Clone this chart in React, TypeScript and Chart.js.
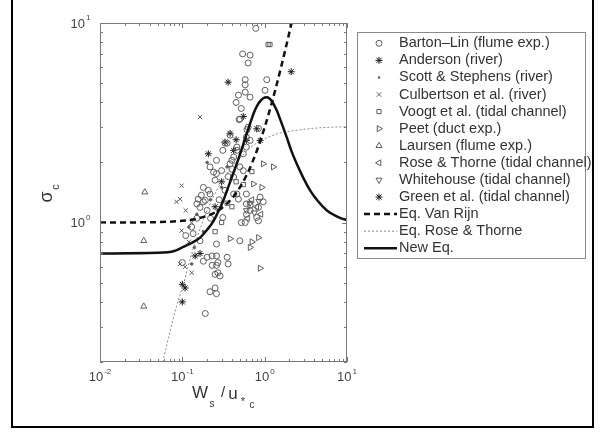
import React, { useEffect, useRef } from "react";
import { Chart, registerables } from "chart.js";

Chart.register(...registerables);

// ---------- data (x = Ws/u*c, y = sigma_c) ----------
const bartonLin: number[][] = [
  [0.78, 9.4], [0.54, 7.0], [0.665, 6.9], [0.63, 6.3], [0.58, 5.2], [0.58, 4.9], [0.58, 4.5],
  [1.06, 5.2], [1.01, 4.6], [0.48, 4.35], [0.665, 4.25], [0.45, 4.0], [0.52, 3.73], [0.49, 3.28],
  [0.61, 2.92], [0.84, 2.96], [0.38, 2.74], [0.6, 2.68], [0.33, 2.5], [0.5, 3.3],
  [0.63, 3.0], [0.46, 2.3], [0.6, 2.39], [0.4, 2.05], [0.55, 1.82], [0.42, 1.69], [0.6, 1.39],
  [0.46, 1.39], [0.88, 1.34], [0.96, 1.27], [0.665, 1.22], [0.84, 1.19], [0.6, 1.1], [0.8, 1.06],
  [0.58, 1.0], [0.84, 1.02], [0.35, 2.5], [0.217, 1.9], [0.26, 1.76], [0.3, 1.82], [0.18, 1.5],
  [0.207, 1.45], [0.156, 1.31], [0.18, 1.27], [0.164, 1.19], [0.2, 1.15], [0.42, 1.39], [0.48, 1.31],
  [0.6, 1.24], [0.665, 1.15], [0.31, 1.06], [0.52, 1.0], [0.11, 0.86], [0.135, 0.88], [0.164, 0.81],
  [0.5, 0.81], [0.26, 0.78], [0.2, 0.67], [0.23, 0.68], [0.27, 0.63], [0.1, 0.63],
  [0.18, 0.64], [0.26, 0.68], [0.35, 0.67], [0.23, 0.61], [0.26, 0.61], [0.36, 0.62], [0.25, 0.55],
  [0.287, 0.54], [0.27, 0.56], [0.217, 0.45], [0.26, 0.44], [0.25, 0.47], [0.19, 0.35],
  [0.46, 2.39], [0.42, 2.13], [0.55, 2.21], [0.38, 1.97], [0.5, 1.9], [0.665, 2.58], [0.31, 2.3],
  [0.26, 2.05], [0.24, 1.79], [0.25, 1.63], [0.17, 1.37], [0.19, 1.29], [0.15, 1.24], [0.217, 1.39],
  [0.33, 1.45], [0.28, 1.3], [0.36, 1.7], [0.4, 1.85], [0.22, 1.05], [0.13, 0.95], [0.15, 1.05],
];
const anderson: number[][] = [
  [0.36, 5.05], [0.207, 2.21], [0.1, 0.49], [0.108, 0.47], [0.1, 0.4], [0.143, 0.68], [0.164, 0.7],
  [0.33, 2.53], [0.38, 2.8], [0.3, 1.6], [0.45, 2.6], [0.25, 1.2], [0.55, 3.4], [0.42, 2.3],
];
const scottStephens: number[][] = [
  [0.2, 2.0], [0.15, 1.1], [0.12, 0.95], [0.3, 1.5], [0.22, 1.3], [0.14, 0.75], [0.13, 0.62],
  [0.18, 0.9], [0.27, 1.15], [0.35, 1.9],
];
const culbertson: number[][] = [
  [0.164, 3.38], [0.098, 1.53], [0.094, 1.31], [0.085, 1.27], [0.098, 0.91], [0.094, 0.62],
  [0.108, 0.6], [0.13, 0.56], [0.12, 0.8], [0.13, 1.0], [0.11, 1.15],
];
const voogt: number[][] = [
  [1.1, 7.8], [1.16, 7.8], [0.3, 1.0], [0.4, 1.2], [0.25, 0.9], [0.55, 1.55], [0.7, 1.8],
  [0.35, 1.25], [0.45, 1.6],
];
const peet: number[][] = [
  [0.96, 1.97], [1.27, 1.9], [0.73, 1.56], [0.92, 1.5], [0.38, 0.83], [0.84, 0.84], [0.88, 0.59],
  [0.665, 0.75], [0.7, 0.8],
];
const laursen: number[][] = [[0.035, 1.42], [0.034, 0.81], [0.034, 0.38]];
const roseThorne: number[][] = [[0.7, 1.3], [0.8, 1.2], [0.62, 1.05], [0.9, 1.1]];
const whitehouse: number[][] = [[0.66, 1.25], [0.75, 1.12], [0.85, 1.28], [0.6, 1.15]];
const green: number[][] = [[2.1, 5.7], [0.88, 2.58], [0.6, 2.58], [0.8, 2.95]];

const vanRijnX = [0.01, 0.05, 0.1, 0.15, 0.2, 0.25, 0.3, 0.4, 0.5, 0.6, 0.7, 0.8, 0.9, 1.0, 1.2, 1.4, 1.6, 1.8, 2.0, 2.15];
const vanRijnY = [1.0, 1.005, 1.02, 1.045, 1.08, 1.125, 1.18, 1.32, 1.5, 1.72, 1.98, 2.28, 2.62, 3.0, 3.88, 4.92, 6.12, 7.48, 9.0, 10.25];

const roseEqX = [0.058, 0.07, 0.085, 0.103, 0.13, 0.16, 0.2, 0.25, 0.3, 0.4, 0.5, 0.65, 0.8, 1.0, 1.5, 2.45, 4.0, 6.0, 10.0];
const roseEqY = [0.2, 0.28, 0.38, 0.49, 0.7, 0.9, 1.15, 1.4, 1.6, 1.9, 2.1, 2.35, 2.5, 2.63, 2.8, 2.9, 2.97, 3.0, 3.02];

const newEqX = [0.01, 0.05, 0.08, 0.1, 0.13, 0.164, 0.2, 0.24, 0.28, 0.315, 0.36, 0.415, 0.47, 0.52, 0.59, 0.665, 0.75, 0.84, 0.96, 1.07, 1.2, 1.4, 1.54, 1.85, 2.1, 2.45, 3.0, 3.56, 4.5, 5.7, 7.0, 8.5, 10.0];
const newEqY = [0.7, 0.705, 0.72, 0.75, 0.79, 0.84, 0.92, 1.02, 1.16, 1.29, 1.5, 1.76, 2.03, 2.3, 2.7, 3.13, 3.6, 3.95, 4.2, 4.25, 4.1, 3.65, 3.3, 2.68, 2.3, 1.97, 1.65, 1.45, 1.27, 1.15, 1.09, 1.05, 1.03];

const seriesLabels = [
  "Barton–Lin (flume exp.)", "Anderson (river)", "Scott & Stephens (river)", "Culbertson et al. (river)",
  "Voogt et al. (tidal channel)", "Peet (duct exp.)", "Laursen (flume exp.)", "Rose & Thorne (tidal channel)",
  "Whitehouse (tidal channel)", "Green et al. (tidal channel)",
];
const lineLabels = ["Eq. Van Rijn", "Eq. Rose & Thorne", "New Eq."];

const xTickValues = [0.01, 0.1, 1, 10];
const xTickExp = ["-2", "-1", "0", "1"];
const yTickValues = [1, 10];
const yTickExp = ["0", "1"];

// ---------- styles ----------
const GRAY = "#5e5e5e";
const DARK = "#1a1a1a";
type MStyle = { style: string; rot: number; r: number; color: string; fill: boolean };
const markerStyles: MStyle[] = [
  { style: "circle", rot: 0, r: 3, color: GRAY, fill: false },
  { style: "star", rot: 0, r: 3.5, color: DARK, fill: false },
  { style: "circle", rot: 0, r: 1.3, color: GRAY, fill: true },
  { style: "crossRot", rot: 0, r: 3, color: GRAY, fill: false },
  { style: "rect", rot: 0, r: 3, color: GRAY, fill: false },
  { style: "triangle", rot: 90, r: 3.5, color: GRAY, fill: false },
  { style: "triangle", rot: 0, r: 3.5, color: GRAY, fill: false },
  { style: "triangle", rot: 270, r: 3.5, color: GRAY, fill: false },
  { style: "triangle", rot: 180, r: 3.5, color: GRAY, fill: false },
  { style: "star", rot: 0, r: 3.5, color: DARK, fill: false },
];
const seriesData = [bartonLin, anderson, scottStephens, culbertson, voogt, peet, laursen, roseThorne, whitehouse, green];

const FONT = '"Liberation Sans", Arial, Helvetica, sans-serif';

function drawMarker(ctx: CanvasRenderingContext2D, m: MStyle, x: number, y: number) {
  ctx.save();
  ctx.translate(x, y);
  ctx.rotate((m.rot * Math.PI) / 180);
  ctx.strokeStyle = m.color;
  ctx.fillStyle = m.color;
  ctx.lineWidth = 1;
  const r = m.r;
  ctx.beginPath();
  if (m.style === "circle") {
    ctx.arc(0, 0, r, 0, Math.PI * 2);
    if (m.fill) ctx.fill(); else ctx.stroke();
  } else if (m.style === "rect") {
    const s = r * Math.SQRT1_2 * 2;
    ctx.rect(-s / 2, -s / 2, s, s);
    ctx.stroke();
  } else if (m.style === "triangle") {
    ctx.moveTo(0, -r);
    ctx.lineTo(r * 0.866, r * 0.5);
    ctx.lineTo(-r * 0.866, r * 0.5);
    ctx.closePath();
    ctx.stroke();
  } else if (m.style === "crossRot") {
    const d = r * 0.75;
    ctx.moveTo(-d, -d); ctx.lineTo(d, d);
    ctx.moveTo(-d, d); ctx.lineTo(d, -d);
    ctx.stroke();
  } else if (m.style === "star") {
    const d = r * 0.75;
    ctx.moveTo(-d, -d); ctx.lineTo(d, d);
    ctx.moveTo(-d, d); ctx.lineTo(d, -d);
    ctx.moveTo(0, -r); ctx.lineTo(0, r);
    ctx.moveTo(-r, 0); ctx.lineTo(r, 0);
    ctx.stroke();
  }
  ctx.restore();
}

const decor = {
  id: "decor",
  afterDraw(chart: any) {
    const { ctx, chartArea: a, scales } = chart;
    const xs = scales.x;
    const ys = scales.y;
    ctx.save();

    // axes box
    ctx.strokeStyle = "#7a7a7a";
    ctx.lineWidth = 1;
    ctx.strokeRect(a.left + 0.5, a.top + 0.5, a.right - a.left - 1, a.bottom - a.top - 1);

    // inward ticks
    ctx.beginPath();
    for (let e = -2; e <= 0; e++) {
      for (let m = 1; m <= 10; m++) {
        const v = m * Math.pow(10, e);
        if (v < 0.01 || v > 10) continue;
        const px = Math.round(xs.getPixelForValue(v)) + 0.5;
        const len = m === 1 || m === 10 ? 5 : 3;
        ctx.moveTo(px, a.bottom); ctx.lineTo(px, a.bottom - len);
        ctx.moveTo(px, a.top); ctx.lineTo(px, a.top + len);
      }
    }
    for (let e = -1; e <= 0; e++) {
      for (let m = 1; m <= 10; m++) {
        const v = m * Math.pow(10, e);
        if (v < 0.2 || v > 10) continue;
        const py = Math.round(ys.getPixelForValue(v)) + 0.5;
        const len = m === 1 || m === 10 ? 5 : 3;
        ctx.moveTo(a.left, py); ctx.lineTo(a.left + len, py);
        ctx.moveTo(a.right, py); ctx.lineTo(a.right - len, py);
      }
    }
    ctx.stroke();

    // tick labels
    ctx.fillStyle = "#444";
    ctx.textBaseline = "middle";
    xTickValues.forEach((v, i) => {
      const px = xs.getPixelForValue(v);
      ctx.font = `13px ${FONT}`;
      const w1 = ctx.measureText("10").width;
      ctx.font = `8px ${FONT}`;
      const w2 = ctx.measureText(xTickExp[i]).width;
      const x0 = px - (w1 + w2 + 1) / 2;
      ctx.textAlign = "left";
      ctx.font = `13px ${FONT}`;
      ctx.fillText("10", x0, a.bottom + 15);
      ctx.font = `8px ${FONT}`;
      ctx.fillText(xTickExp[i], x0 + w1 + 1, a.bottom + 10);
    });
    yTickValues.forEach((v, i) => {
      const py = ys.getPixelForValue(v);
      ctx.font = `8px ${FONT}`;
      ctx.textAlign = "left";
      ctx.fillText(yTickExp[i], 86, py - 5);
      ctx.textAlign = "right";
      ctx.font = `13px ${FONT}`;
      ctx.fillText("10", 85, py + 1);
    });

    // x axis title: W_s / u_*c
    ctx.fillStyle = "#333";
    ctx.textAlign = "center";
    ctx.font = `17px ${FONT}`;
    ctx.fillText("W", 200, 393);
    ctx.font = `10px ${FONT}`;
    ctx.fillText("s", 212, 404);
    ctx.font = `15px ${FONT}`;
    ctx.fillText("/", 223, 393);
    ctx.font = `17px ${FONT}`;
    ctx.fillText("u", 233, 394);
    ctx.font = `11px ${FONT}`;
    ctx.fillText("*", 243, 402);
    ctx.font = `10px ${FONT}`;
    ctx.fillText("c", 252, 405);

    // y axis title: sigma_c
    ctx.save();
    ctx.translate(47, 197);
    ctx.rotate(-Math.PI / 2);
    ctx.font = `18px ${FONT}`;
    ctx.fillText("σ", 0, 0);
    ctx.font = `11px ${FONT}`;
    ctx.fillText("c", 10, 9);
    ctx.restore();

    // legend
    const lx = 357.5, ly = 32.5, lw = 228, lh = 226;
    ctx.fillStyle = "#fff";
    ctx.fillRect(lx, ly, lw, lh);
    ctx.strokeStyle = "#8a8a8a";
    ctx.lineWidth = 1;
    ctx.strokeRect(lx, ly, lw, lh);
    const rowH = 17.08;
    const y0 = 43.3;
    ctx.save();
    ctx.beginPath();
    ctx.rect(lx, ly - 2, 591 - lx, lh + 4);
    ctx.clip();
    ctx.font = `14.5px ${FONT}`;
    ctx.textAlign = "left";
    ctx.textBaseline = "middle";
    seriesLabels.forEach((lab, i) => {
      const y = y0 + i * rowH;
      drawMarker(ctx, markerStyles[i], 379, y);
      ctx.fillStyle = "#333";
      ctx.fillText(lab, 399, y);
    });
    const lineStyles = [
      { dash: [6, 4], width: 2.5, color: "#111" },
      { dash: [2, 2], width: 1, color: "#888" },
      { dash: [], width: 2.5, color: "#111" },
    ];
    lineLabels.forEach((lab, j) => {
      const y = y0 + (10 + j) * rowH;
      const s = lineStyles[j];
      ctx.save();
      ctx.beginPath();
      ctx.setLineDash(s.dash);
      ctx.lineWidth = s.width;
      ctx.strokeStyle = s.color;
      ctx.moveTo(364, y);
      ctx.lineTo(397, y);
      ctx.stroke();
      ctx.restore();
      ctx.fillStyle = "#333";
      ctx.fillText(lab, 399, y);
    });
    ctx.restore();

    // outer frame
    ctx.strokeStyle = "#000";
    ctx.lineWidth = 2;
    ctx.beginPath();
    ctx.moveTo(12, 0); ctx.lineTo(12, 427); ctx.lineTo(593, 427); ctx.lineTo(593, 0);
    ctx.stroke();

    ctx.restore();
  },
};

export default function App() {
  const ref = useRef<HTMLCanvasElement | null>(null);

  useEffect(() => {
    if (!ref.current) return;
    const scatterSets = seriesData.map((d, i) => {
      const m = markerStyles[i];
      return {
        label: seriesLabels[i],
        data: d.map(([x, y]) => ({ x, y })),
        showLine: false,
        pointStyle: m.style,
        pointRotation: m.rot,
        pointRadius: m.r,
        pointBorderWidth: 1,
        pointBorderColor: m.color,
        pointBackgroundColor: m.fill ? m.color : "rgba(0,0,0,0)",
        order: 2,
      };
    });
    const mk = (xs: number[], ys: number[]) => xs.map((x, i) => ({ x, y: ys[i] }));
    const lineSets = [
      {
        label: lineLabels[0],
        data: mk(vanRijnX, vanRijnY),
        showLine: true,
        borderColor: "#111",
        borderWidth: 2.5,
        borderDash: [6, 4],
        pointRadius: 0,
        cubicInterpolationMode: "monotone",
        order: 0,
      },
      {
        label: lineLabels[1],
        data: mk(roseEqX, roseEqY),
        showLine: true,
        borderColor: "#8a8a8a",
        borderWidth: 1,
        borderDash: [2, 2],
        pointRadius: 0,
        cubicInterpolationMode: "monotone",
        order: 1,
      },
      {
        label: lineLabels[2],
        data: mk(newEqX, newEqY),
        showLine: true,
        borderColor: "#111",
        borderWidth: 2.5,
        pointRadius: 0,
        cubicInterpolationMode: "monotone",
        order: 0,
      },
    ];
    const chart = new Chart(ref.current, {
      type: "scatter",
      data: { datasets: [...lineSets, ...scatterSets] as any },
      options: {
        responsive: false,
        animation: false,
        devicePixelRatio: 1,
        layout: { padding: { left: 100, top: 23, right: 254, bottom: 72 } },
        scales: {
          x: { type: "logarithmic", min: 0.01, max: 10, display: false },
          y: { type: "logarithmic", min: 0.2, max: 10, display: false },
        },
        plugins: { legend: { display: false }, tooltip: { enabled: false } },
      },
      plugins: [decor],
    });
    return () => chart.destroy();
  }, []);

  return (
    <div style={{ position: "fixed", left: 0, top: 0, width: 601, height: 434, background: "#fff" }}>
      <canvas ref={ref} width={601} height={434} style={{ width: 601, height: 434, display: "block" }} />
    </div>
  );
}
